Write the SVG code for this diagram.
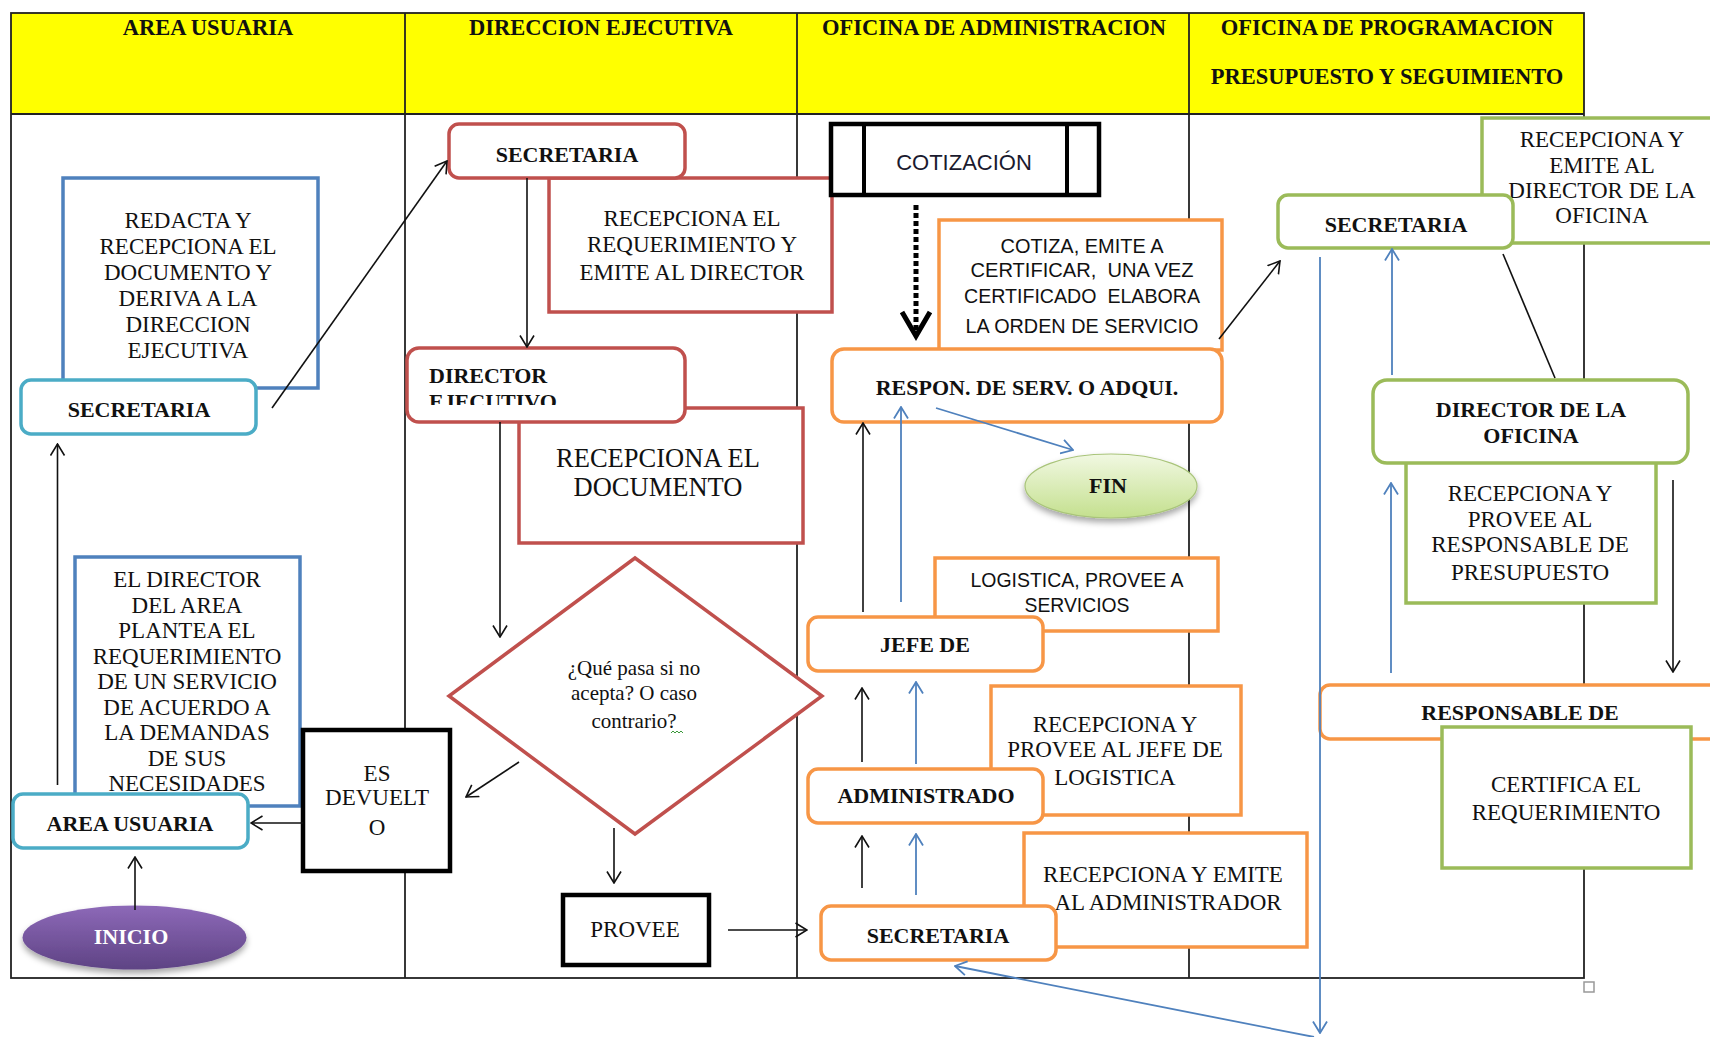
<svg xmlns="http://www.w3.org/2000/svg" width="1710" height="1037" viewBox="0 0 1710 1037">
<style>
text{font-family:"Liberation Serif","Times New Roman",serif;fill:#111;text-anchor:middle}
.h{font-weight:bold;font-size:22.5px}
.b{font-weight:bold;font-size:22px}
.t{font-size:23px}
.s{font-family:"Liberation Sans",Arial,sans-serif;font-size:21px;white-space:pre}
.tl{stroke:#222;stroke-width:1.8;fill:none}
.rb{fill:#fff;stroke-width:3.5}
.cy{stroke:#4bacc6}
.bl{stroke:#4f81bd}
.rd{stroke:#c0504d}
.or{stroke:#f79646}
.gr{stroke:#9bbb59}
.bk{fill:#fff;stroke:#000;stroke-width:4.5}
.ck{stroke:#111;stroke-width:1.6;fill:none;marker-end:url(#ak)}
.cb{stroke:#4f81bd;stroke-width:1.8;fill:none;marker-end:url(#ab)}
</style>
<defs>
<marker id="ak" viewBox="0 0 13 16" refX="12" refY="8" markerWidth="13" markerHeight="16" markerUnits="userSpaceOnUse" orient="auto"><path d="M0.5,1 L12,8 L0.5,15" fill="none" stroke="#111" stroke-width="1.6"/></marker>
<marker id="ab" viewBox="0 0 13 16" refX="12" refY="8" markerWidth="13" markerHeight="16" markerUnits="userSpaceOnUse" orient="auto"><path d="M0.5,1 L12,8 L0.5,15" fill="none" stroke="#4f81bd" stroke-width="1.8"/></marker>
<linearGradient id="gp" x1="0" y1="0" x2="0" y2="1"><stop offset="0" stop-color="#8d69b8"/><stop offset="1" stop-color="#5e4384"/></linearGradient>
<linearGradient id="gg" x1="0" y1="0" x2="0" y2="1"><stop offset="0" stop-color="#f1f8e2"/><stop offset="1" stop-color="#c4e08e"/></linearGradient>
<filter id="sh" x="-20%" y="-30%" width="140%" height="170%"><feDropShadow dx="0" dy="4" stdDeviation="3" flood-color="#000" flood-opacity="0.35"/></filter>
<clipPath id="cde"><rect x="407" y="348" width="278" height="57"/></clipPath>
</defs>

<g id="table">
<rect x="11" y="13" width="1573" height="101" fill="#ffff00"/>
<rect x="11" y="13" width="1573" height="965" class="tl"/>
<line x1="11" y1="114" x2="1584" y2="114" class="tl"/>
<line x1="405" y1="13" x2="405" y2="978" class="tl"/>
<line x1="797" y1="13" x2="797" y2="978" class="tl"/>
<line x1="1189" y1="13" x2="1189" y2="978" class="tl"/>
<text class="h" x="208" y="35">AREA USUARIA</text>
<text class="h" x="601" y="35">DIRECCION EJECUTIVA</text>
<text class="h" x="994" y="35">OFICINA DE ADMINISTRACION</text>
<text class="h" x="1387" y="35">OFICINA DE PROGRAMACION</text>
<text class="h" x="1387" y="84">PRESUPUESTO Y SEGUIMIENTO</text>
<rect x="1584" y="982" width="10" height="10" fill="#fff" stroke="#999" stroke-width="1.5"/>
</g>

<g id="n-redacta">
<rect x="63" y="178" width="255" height="210" class="rb bl"/>
<text class="t" x="188" y="228">REDACTA Y</text>
<text class="t" x="188" y="254">RECEPCIONA EL</text>
<text class="t" x="188" y="280">DOCUMENTO Y</text>
<text class="t" x="188" y="306">DERIVA A LA</text>
<text class="t" x="188" y="332">DIRECCION</text>
<text class="t" x="188" y="358">EJECUTIVA</text>
</g>
<g id="n-el-director">
<rect x="75" y="557" width="225" height="249" class="rb bl"/>
<text class="t" x="187" y="587">EL DIRECTOR</text>
<text class="t" x="187" y="612.5">DEL AREA</text>
<text class="t" x="187" y="638">PLANTEA EL</text>
<text class="t" x="187" y="663.5">REQUERIMIENTO</text>
<text class="t" x="187" y="689">DE UN SERVICIO</text>
<text class="t" x="187" y="714.5">DE ACUERDO A</text>
<text class="t" x="187" y="740">LA DEMANDAS</text>
<text class="t" x="187" y="765.5">DE SUS</text>
<text class="t" x="187" y="791">NECESIDADES</text>
</g>
<g id="n-recep-req">
<rect x="549" y="178" width="283" height="134" class="rb rd"/>
<text class="t" x="692" y="226">RECEPCIONA EL</text>
<text class="t" x="692" y="252">REQUERIMIENTO Y</text>
<text class="t" x="692" y="280">EMITE AL DIRECTOR</text>
</g>
<g id="n-recep-doc">
<rect x="519" y="408" width="284" height="135" class="rb rd"/>
<text x="658" y="467" style="font-size:26.5px">RECEPCIONA EL</text>
<text x="658" y="496" style="font-size:26.5px">DOCUMENTO</text>
</g>
<g id="n-cotiza">
<rect x="939" y="220" width="283" height="130" class="rb or"/>
<text class="s" x="1082" y="253" textLength="163" lengthAdjust="spacingAndGlyphs">COTIZA, EMITE A</text>
<text class="s" x="1082" y="277" textLength="223" lengthAdjust="spacingAndGlyphs">CERTIFICAR,  UNA VEZ</text>
<text class="s" x="1082" y="303" textLength="236" lengthAdjust="spacingAndGlyphs">CERTIFICADO  ELABORA</text>
<text class="s" x="1082" y="333" textLength="233" lengthAdjust="spacingAndGlyphs">LA ORDEN DE SERVICIO</text>
</g>
<g id="n-logistica">
<rect x="935" y="558" width="283" height="73" class="rb or"/>
<text class="s" x="1077" y="587" textLength="213" lengthAdjust="spacingAndGlyphs">LOGISTICA, PROVEE A</text>
<text class="s" x="1077" y="612" textLength="105" lengthAdjust="spacingAndGlyphs">SERVICIOS</text>
</g>
<g id="n-recep-prov-jefe">
<rect x="991" y="686" width="250" height="129" class="rb or"/>
<text class="t" x="1115" y="732">RECEPCIONA Y</text>
<text class="t" x="1115" y="757">PROVEE AL JEFE DE</text>
<text class="t" x="1115" y="785">LOGISTICA</text>
</g>
<g id="n-recep-emite-adm">
<rect x="1024" y="833" width="283" height="114" class="rb or"/>
<text class="t" x="1163" y="882">RECEPCIONA Y EMITE</text>
<text class="t" x="1168" y="910">AL ADMINISTRADOR</text>
</g>
<g id="n-recep-emite-dir">
<rect x="1482" y="118" width="250" height="125" class="rb gr"/>
<text class="t" x="1602" y="147">RECEPCIONA Y</text>
<text class="t" x="1602" y="173">EMITE AL</text>
<text class="t" x="1602" y="198">DIRECTOR DE LA</text>
<text class="t" x="1602" y="223">OFICINA</text>
</g>
<g id="n-recep-prov-resp">
<rect x="1406" y="455" width="250" height="148" class="rb gr"/>
<text class="t" x="1530" y="501">RECEPCIONA Y</text>
<text class="t" x="1530" y="527">PROVEE AL</text>
<text class="t" x="1530" y="552">RESPONSABLE DE</text>
<text class="t" x="1530" y="580">PRESUPUESTO</text>
</g>

<g id="n-secretaria-au">
<rect x="21" y="380" width="235" height="54" rx="10" class="rb cy"/>
<text class="b" x="139" y="417">SECRETARIA</text>
</g>
<g id="n-area-usuaria">
<rect x="13" y="794" width="235" height="54" rx="10" class="rb cy"/>
<text class="b" x="130" y="831">AREA USUARIA</text>
</g>
<g id="n-inicio">
<ellipse cx="134.5" cy="937.5" rx="112" ry="32" fill="url(#gp)" filter="url(#sh)"/>
<text class="b" x="131" y="944" style="fill:#fff">INICIO</text>
</g>
<g id="n-devuelto">
<rect x="303" y="730" width="147" height="141" class="bk"/>
<text class="t" x="377" y="781">ES</text>
<text class="t" x="377" y="805">DEVUELT</text>
<text class="t" x="377" y="835">O</text>
</g>
<g id="n-secretaria-de">
<rect x="449" y="124" width="236" height="54" rx="10" class="rb rd"/>
<text class="b" x="567" y="162">SECRETARIA</text>
</g>
<g id="n-director-ej">
<rect x="407" y="348" width="278" height="74" rx="12" class="rb rd"/>
<text class="b" x="429" y="383" style="text-anchor:start">DIRECTOR</text>
<text class="b" x="429" y="409" style="text-anchor:start" clip-path="url(#cde)">EJECUTIVO</text>
</g>
<g id="n-decision">
<polygon points="635,558 822,696 635,834 449,696" fill="#fff" stroke="#c0504d" stroke-width="3.5"/>
<text x="634" y="675" style="font-size:21px">¿Qué pasa si no</text>
<text x="634" y="700" style="font-size:21px">acepta? O caso</text>
<text x="634" y="728" style="font-size:21px">contrario?</text>
<path d="M671,733 l2,-2 l2,2 l2,-2 l2,2 l2,-2 l2,2" fill="none" stroke="#3a9a3a" stroke-width="1"/>
</g>
<g id="n-provee">
<rect x="563" y="895" width="146" height="70" class="bk"/>
<text class="t" x="635" y="937">PROVEE</text>
</g>
<g id="n-cotizacion">
<rect x="831" y="124" width="268" height="71" class="bk"/>
<line x1="864" y1="124" x2="864" y2="195" stroke="#000" stroke-width="4"/>
<line x1="1067" y1="124" x2="1067" y2="195" stroke="#000" stroke-width="4"/>
<text x="964" y="170" style="font-family:'Liberation Sans',Arial,sans-serif;font-size:22px;fill:#1a1a2e">COTIZACIÓN</text>
</g>
<g id="n-respon">
<rect x="832" y="349" width="390" height="73" rx="12" class="rb or"/>
<text class="b" x="1027" y="395">RESPON. DE SERV. O ADQUI.</text>
</g>
<g id="n-fin">
<ellipse cx="1111" cy="486" rx="86" ry="32" fill="url(#gg)" stroke="#a9c47a" stroke-width="1.2" filter="url(#sh)"/>
<text class="b" x="1108" y="493">FIN</text>
</g>
<g id="n-jefe">
<rect x="808" y="617" width="235" height="54" rx="10" class="rb or"/>
<text class="b" x="925" y="652">JEFE DE</text>
</g>
<g id="n-administrado">
<rect x="808" y="769" width="235" height="54" rx="10" class="rb or"/>
<text class="b" x="926" y="803">ADMINISTRADO</text>
</g>
<g id="n-secretaria-adm">
<rect x="821" y="906" width="235" height="54" rx="10" class="rb or"/>
<text class="b" x="938" y="943">SECRETARIA</text>
</g>
<g id="n-secretaria-prog">
<rect x="1278" y="195" width="235" height="53" rx="10" class="rb gr"/>
<text class="b" x="1396" y="232">SECRETARIA</text>
</g>
<g id="n-director-of">
<rect x="1373" y="380" width="315" height="83" rx="14" class="rb gr"/>
<text class="b" x="1531" y="417">DIRECTOR DE LA</text>
<text class="b" x="1531" y="443">OFICINA</text>
</g>
<g id="n-responsable">
<rect x="1320" y="685" width="420" height="54" rx="10" class="rb or"/>
<text class="b" x="1520" y="720">RESPONSABLE DE</text>
</g>
<g id="n-certifica">
<rect x="1442" y="727" width="249" height="141" class="rb gr"/>
<text class="t" x="1566" y="792">CERTIFICA EL</text>
<text class="t" x="1566" y="820">REQUERIMIENTO</text>
</g>

<g id="connectors">
<line x1="272" y1="408" x2="447" y2="161" class="ck"/>
<line x1="57.5" y1="785" x2="57.5" y2="444" class="ck"/>
<line x1="135" y1="910" x2="135" y2="857" class="ck"/>
<line x1="303" y1="823" x2="251" y2="823" class="ck"/>
<line x1="527" y1="178" x2="527" y2="347" class="ck"/>
<line x1="500" y1="422" x2="500" y2="637" class="ck"/>
<line x1="519" y1="762" x2="466" y2="797" class="ck"/>
<line x1="614" y1="828" x2="614" y2="883" class="ck"/>
<line x1="728" y1="930" x2="807" y2="930" class="ck"/>
<line x1="916" y1="205" x2="916" y2="333" stroke="#000" stroke-width="5" stroke-dasharray="5,3"/>
<path d="M902,312 L916,336 L930,312" fill="none" stroke="#000" stroke-width="5"/>
<line x1="936" y1="408" x2="1073" y2="450" class="cb"/>
<line x1="863" y1="612" x2="863" y2="423" class="ck"/>
<line x1="901" y1="602" x2="901" y2="407" class="cb"/>
<line x1="862" y1="762" x2="862" y2="688" class="ck"/>
<line x1="916" y1="764" x2="916" y2="682" class="cb"/>
<line x1="862" y1="888" x2="862" y2="836" class="ck"/>
<line x1="916" y1="895" x2="916" y2="834" class="cb"/>
<line x1="1314" y1="1037" x2="955" y2="966" class="cb"/>
<line x1="1219" y1="339" x2="1280" y2="261" class="ck"/>
<line x1="1320" y1="257" x2="1320" y2="1033" class="cb"/>
<line x1="1392" y1="375" x2="1392" y2="249" class="cb"/>
<line x1="1503" y1="254" x2="1555" y2="378" stroke="#111" stroke-width="1.6"/>
<line x1="1391" y1="673" x2="1391" y2="483" class="cb"/>
<line x1="1673" y1="480" x2="1673" y2="672" class="ck"/>
</g>
</svg>
